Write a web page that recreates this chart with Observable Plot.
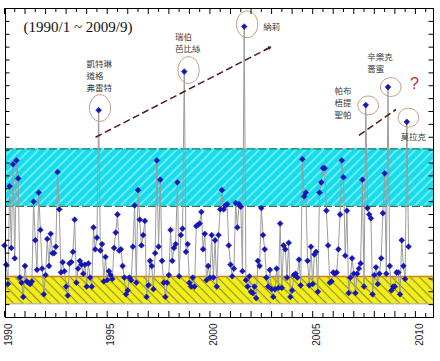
<!DOCTYPE html>
<html><head><meta charset="utf-8">
<script src="https://cdn.jsdelivr.net/npm/d3@7"></script>
<script src="https://cdn.jsdelivr.net/npm/@observablehq/plot@0.6"></script>
<style>html,body{margin:0;padding:0;background:#fff}svg{display:block}</style>
</head><body><div id="chart"></div>
<script>
// ---- data (monthly, 1990/1 .. 2009/9) ----
const startYear = 1990;
const rainfall = [
  5.6, 4.1, 2.6, 10.2, 5.4, 11.9, 4.6, 12.2, 10.8, 3.1, 2.7, 1.6,
  4.0, 2.8, 2.7, 2.6, 2.8, 9.0, 6.0, 3.7, 9.7, 6.8, 3.8, 1.8,
  3.3, 6.1, 4.0, 6.5, 5.0, 5.0, 5.5, 11.3, 8.4, 3.5, 4.3, 3.6,
  2.4, 1.7, 4.2, 4.3, 5.1, 7.6, 2.7, 3.8, 4.4, 4.1, 3.4, 4.1,
  2.4, 4.2, 3.1, 2.4, 7.0, 5.3, 6.2, 16.1, 5.2, 5.7, 2.8, 4.7,
  2.9, 3.6, 3.3, 3.0, 5.4, 6.6, 8.0, 5.2, 5.3, 4.0, 3.1, 1.8,
  2.1, 3.1, 2.9, 5.5, 8.7, 2.7, 9.9, 7.6, 5.6, 6.4, 7.5, 1.6,
  2.5, 4.4, 4.0, 2.2, 5.0, 12.2, 5.5, 10.7, 4.4, 2.7, 1.6, 2.7,
  3.3, 6.8, 4.4, 5.4, 5.7, 10.5, 3.2, 6.4, 6.9, 19.1, 5.1, 5.7,
  2.7, 2.4, 3.1, 2.4, 7.1, 7.2, 7.3, 8.2, 5.3, 6.5, 2.9, 4.0,
  3.1, 6.4, 3.1, 6.0, 2.4, 6.4, 8.4, 9.9, 8.4, 8.7, 8.8, 5.6,
  4.1, 3.2, 3.8, 8.9, 7.0, 8.8, 8.6, 3.6, 22.6, 2.9, 2.4, 3.2,
  2.0, 1.9, 2.4, 1.5, 4.4, 4.0, 8.5, 6.4, 5.3, 3.1, 2.4, 3.7,
  2.2, 1.6, 2.2, 3.8, 2.3, 7.3, 2.3, 5.6, 5.3, 3.1, 5.8, 1.6,
  2.1, 3.3, 3.4, 3.1, 4.5, 2.5, 12.3, 9.4, 9.7, 4.4, 2.5, 5.5,
  2.6, 4.9, 5.1, 2.0, 9.7, 10.5, 11.6, 11.6, 8.3, 5.6, 2.7, 2.8,
  3.5, 3.4, 3.5, 5.3, 8.0, 12.2, 10.9, 4.8, 8.3, 1.9, 3.1, 4.6,
  3.4, 1.9, 3.4, 3.8, 4.2, 10.7, 2.4, 16.5, 8.5, 8.0, 7.7, 1.8,
  3.3, 3.9, 2.6, 3.4, 4.6, 8.1, 11.2, 3.4, 17.9, 4.0, 2.1, 2.4,
  2.4, 3.5, 3.5, 1.8, 6.0, 4.0, 3.0, 15.2, 5.5
];
const yearLabels = [1990, 1995, 2000, 2005, 2010];
const yearTicks = d3.range(1990, 2011, 1);
const halfYearTicks = d3.range(1990.5, 2011, 1);
const yTicks = d3.range(1, 24);
const highBand = [8.63, 13.1];   // cyan band
const lowBand = [1.06, 3.19];    // yellow band
const titleText = "(1990/1 ~ 2009/9)";

// annotations
const peakNames = ["凱特琳\n道格\n弗雷特", "瑞伯\n芭比絲", "納莉", "帕布\n梧提\n聖帕", "辛樂克\n薔蜜", "莫拉克"];
const nameX = [1993.99, 1998.30, 2002.59, 2006.06, 2007.65, 2009.27];
const nameY = [18.83, 21.37, 22.60, 16.74, 19.82, 14.06];
const ringX = [1994.65, 1998.96, 2001.81, 2007.70, 2008.80, 2009.66];
const ringY = [16.27, 19.22, 22.77, 16.47, 17.90, 15.52];
const ringTall = [true, true, true, false, false, false];
const arrowFrom = [[1994.43, 14.0], [2007.25, 14.14]];
const arrowTo = [[2002.95, 21.0], [2009.03, 16.13]];
const question = {x: 2009.956, y: 18.14, text: "?"};

// ---- tables built from the arrays ----
const series = rainfall.map((v, i) => ({date: startYear + i / 12, value: v}));
const names = peakNames.map((t, i) => ({x: nameX[i], y: nameY[i], text: t}));
const rings = ringX.map((x, i) => ({x, y: ringY[i], tall: ringTall[i]}));
const arrows = arrowFrom.map((a, i) => ({x1: a[0], y1: a[1], x2: arrowTo[i][0], y2: arrowTo[i][1]}));

function ellipse(rx, ry) {
  const k = 0.5523;
  return {draw(ctx) {
    ctx.moveTo(rx, 0);
    ctx.bezierCurveTo(rx, k * ry, k * rx, ry, 0, ry);
    ctx.bezierCurveTo(-k * rx, ry, -rx, k * ry, -rx, 0);
    ctx.bezierCurveTo(-rx, -k * ry, -k * rx, -ry, 0, -ry);
    ctx.bezierCurveTo(k * rx, -ry, rx, -k * ry, rx, 0);
    ctx.closePath();
  }};
}

const W = 440, H = 361, mL = 5, mR = 7, mT = 8, mB = 44;
const fw = W - mL - mR, fh = H - mT - mB;

const defs = () => {
  const g = document.createElementNS("http://www.w3.org/2000/svg", "defs");
  g.innerHTML = `
  <pattern id="hatchC" patternUnits="userSpaceOnUse" width="6.5" height="6.5" patternTransform="rotate(45)">
    <rect width="6.5" height="6.5" fill="#14dcec"/>
    <line x1="3.2" y1="0" x2="3.2" y2="6.5" stroke="#8cf0f7" stroke-width="1.5"/>
  </pattern>
  <pattern id="hatchY" patternUnits="userSpaceOnUse" width="6.5" height="6.5" patternTransform="rotate(-45)">
    <rect width="6.5" height="6.5" fill="#f2ee18"/>
    <line x1="3.2" y1="0" x2="3.2" y2="6.5" stroke="#948c24" stroke-width="1.1"/>
  </pattern>`;
  return g;
};

const cjk = "'Noto Sans CJK TC', 'Noto Sans CJK SC', sans-serif";
const arrowColor = "#4e1e1e";

const chart = Plot.plot({
  width: W, height: H,
  marginLeft: mL, marginRight: mR, marginTop: mT, marginBottom: mB,
  x: {domain: [1990.05, 2010.88], axis: null},
  y: {domain: [0, 24], axis: null},
  style: {background: "#fff", overflow: "visible"},
  marks: [
    defs,
    Plot.rect([highBand], {x1: 1990.05, x2: 2010.88, y1: d => d[0], y2: d => d[1], fill: "url(#hatchC)"}),
    Plot.rect([lowBand], {x1: 1990.05, x2: 2010.88, y1: d => d[0], y2: d => d[1], fill: "url(#hatchY)"}),
    Plot.ruleY(highBand, {stroke: "#2e7a56", strokeWidth: 1.3, strokeDasharray: "8,3"}),
    Plot.ruleY([lowBand[1]], {stroke: "#d0802c", strokeWidth: 1.6}),
    Plot.ruleY([lowBand[0]], {stroke: "#8a8a70", strokeWidth: 0.8}),
    Plot.line(series, {x: "date", y: "value", stroke: "#9c9c9c", strokeWidth: 1}),
    Plot.dot(series, {x: "date", y: "value", symbol: "diamond2", r: 2.6, fill: "#1616b8", stroke: "#1616b8", strokeWidth: 0.6}),
    // annotation rings
    Plot.dot(rings.filter(d => d.tall), {x: "x", y: "y", r: 1, symbol: ellipse(10.6, 13.4), fill: "none", stroke: "#c49c86", strokeWidth: 1}),
    Plot.dot(rings.filter(d => !d.tall), {x: "x", y: "y", r: 1, symbol: ellipse(10.3, 9.4), fill: "none", stroke: "#c49c86", strokeWidth: 1}),
    // dashed arrows
    Plot.link(arrows, {x1: "x1", y1: "y1", x2: "x2", y2: "y2", stroke: arrowColor, strokeWidth: 1.5, strokeDasharray: "7,3.5"}),
    Plot.arrow(arrows, {x1: d => d.x2 - (d.x2 - d.x1) * 0.03, y1: d => d.y2 - (d.y2 - d.y1) * 0.03, x2: "x2", y2: "y2", stroke: arrowColor, strokeWidth: 1.4, headLength: 10}),
    // texts
    Plot.text(names, {x: "x", y: "y", text: "text", textAnchor: "start", lineAnchor: "middle", lineHeight: 1.42, fontSize: 8.5, fontFamily: cjk, fill: "#3a3a3a", style: {letterSpacing: "2px"}}),
    Plot.text([question], {x: "x", y: "y", text: "text", fontSize: 16, fontFamily: "'Liberation Sans', Arial, sans-serif", fill: "#b8302a"}),
    Plot.text([titleText], {frameAnchor: "top-left", dx: 18, dy: 19, textAnchor: "start", lineAnchor: "middle", fontSize: 15, fontFamily: "'Liberation Serif', 'Times New Roman', serif", fill: "#111"}),
    // frame & ticks
    Plot.frame({stroke: "#000", strokeWidth: 1}),
    Plot.tickY(yTicks, {y: d => d, insetRight: fw - 4.5, stroke: "#000"}),
    Plot.tickY(yTicks, {y: d => d, insetLeft: fw - 4.5, stroke: "#000"}),
    Plot.tickX(yearTicks, {x: d => d, insetBottom: fh - 6, stroke: "#000"}),
    Plot.tickX(halfYearTicks, {x: d => d, insetBottom: fh - 4, stroke: "#000"}),
    Plot.tickX(yearTicks, {x: d => d, insetTop: fh - 6, stroke: "#000"}),
    Plot.tickX(halfYearTicks, {x: d => d, insetTop: fh - 4, stroke: "#000"}),
    Plot.text(yearLabels, {x: d => d, y: 0, text: d => String(d), rotate: -90, textAnchor: "end", dx: 4, dy: 6, fontSize: 10, fontFamily: "'Liberation Sans', Arial, sans-serif", fill: "#222"})
  ]
});
document.getElementById("chart").appendChild(chart);
</script>
</body></html>
